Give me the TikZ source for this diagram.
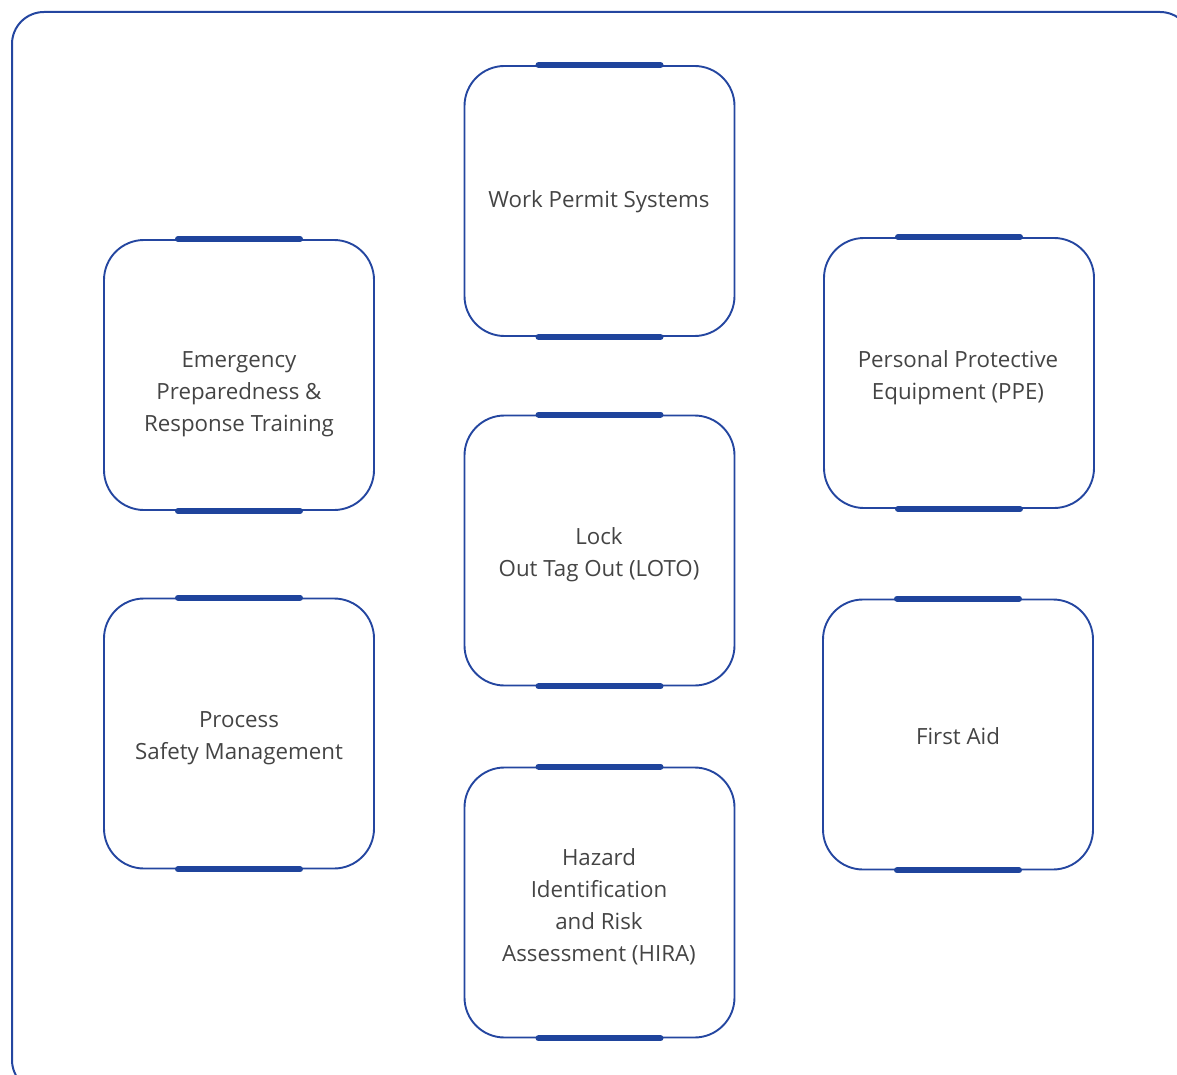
\documentclass[tikz,border=0pt]{standalone}
\usepackage{fontspec}
\setmainfont{Open Sans}
\definecolor{frame}{HTML}{2446A0}
\definecolor{bar}{HTML}{1F449C}
\definecolor{txt}{HTML}{444444}
\begin{document}
\begin{tikzpicture}[x=1pt,y=-1pt,
  card/.style={draw=frame,line width=1.9pt,rounded corners=40pt,minimum width=270pt,minimum height=270pt,inner sep=0pt},
  lbl/.style={text=txt,font=\fontsize{22.3}{32}\selectfont,align=center,inner sep=0pt},
  barline/.style={draw=bar,line width=6pt,line cap=round}]
\useasboundingbox (0,0) rectangle (1177,1075);
\draw[frame,line width=2pt,rounded corners=32pt] (12,12) rectangle (1192,1092);
\newcommand{\card}[4]{%
  \node[card] (#1) at (#2,#3) {};
  \draw[barline] ([xshift=-61pt]#1.north) -- ([xshift=61pt]#1.north);
  \draw[barline] ([xshift=-61pt]#1.south) -- ([xshift=61pt]#1.south);
}
\card{wps}{599.5}{201}{}
\card{epr}{239}{375}{}
\card{ppe}{959}{373}{}
\card{loto}{599.5}{550.5}{}
\card{psm}{239}{733.5}{}
\card{fa}{958}{734.5}{}
\card{hira}{599.5}{902.5}{}
\node[lbl] (twps) at (599,202) {Work Permit Systems};
\node[lbl] (tepr) at (239,394) {Emergency\\Preparedness \&\\Response Training};
\node[lbl] (tppe) at (958,378) {Personal Protective\\Equipment (PPE)};
\node[lbl] (tloto) at (599,555) {Lock\\Out Tag Out (LOTO)};
\node[lbl] (tpsm) at (239,738) {Process\\Safety Management};
\node[lbl] (tfa) at (958,736) {First Aid};
\node[lbl] (thira) at (599,907) {Hazard\\Identification\\and Risk\\Assessment (HIRA)};
\end{tikzpicture}
\end{document}
